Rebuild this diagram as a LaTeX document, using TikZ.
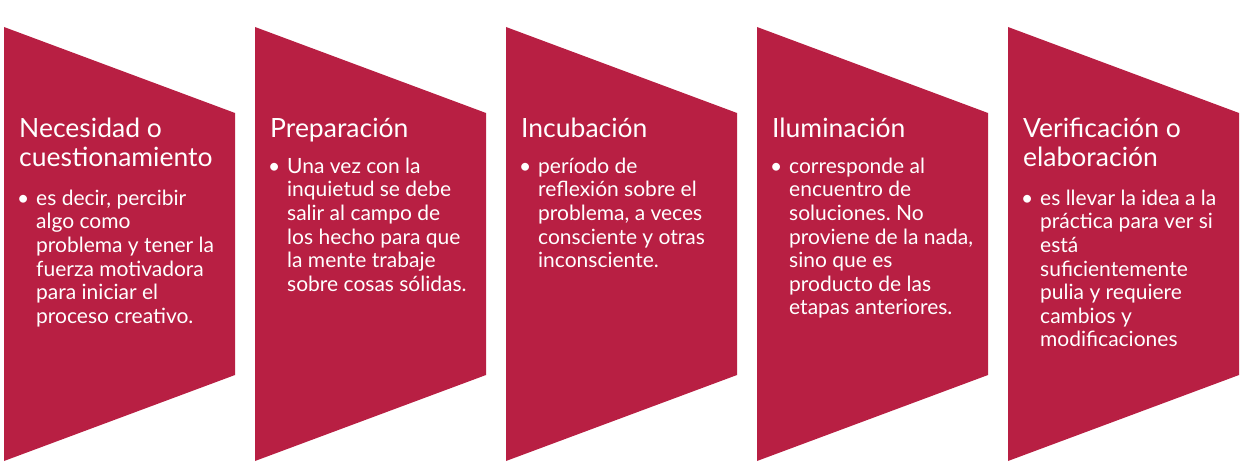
\documentclass[tikz,border=0pt]{standalone}
\usepackage{fontspec}
\setmainfont{Lato}
\usepackage{tikz}
\definecolor{Crimson}{RGB}{184,31,67}
\frenchspacing

% a strut that fixes the height of the first line of a node
\newcommand{\topstrut}[1]{\rule{0pt}{#1}}

\tikzset{
    stage/.style={fill=Crimson},
    stagetitle/.style={anchor=north west, inner sep=0pt, text=white, align=left,
        font=\fontsize{26.5}{29.5}\selectfont},
    stagebody/.style={anchor=north west, inner sep=0pt, text=white, align=left,
        font=\fontsize{21}{23.6}\selectfont},
    stagedot/.style={anchor=base west, inner sep=0pt, text=white,
        font=\fontsize{21}{23.6}\selectfont}
}

\begin{document}
\begin{tikzpicture}[x=1pt, y=-1pt]
    \useasboundingbox (0,0) rectangle (1242,476);

    % Stages
    \fill[stage] (4,27) -- (235,113) -- (235,375) -- (4,461) -- cycle;
    \fill[stage] (255,27) -- (486,113) -- (486,375) -- (255,461) -- cycle;
    \fill[stage] (506,27) -- (737,113) -- (737,375) -- (506,461) -- cycle;
    \fill[stage] (757,27) -- (988,113) -- (988,375) -- (757,461) -- cycle;
    \fill[stage] (1008,27) -- (1239,113) -- (1239,375) -- (1008,461) -- cycle;

    % Titles (first baseline at y = 137)
    \node[stagetitle] (necesidad) at (19,111) {\topstrut{26pt}Necesidad o\\cuestionamiento};
    \node[stagetitle] (preparacion) at (270,111) {\topstrut{26pt}Preparación};
    \node[stagetitle] (incubacion) at (521,111) {\topstrut{26pt}Incubación};
    \node[stagetitle] (iluminacion) at (772,111) {\topstrut{26pt}Iluminación};
    \node[stagetitle] (verificacion) at (1023,111) {\topstrut{26pt}Verificación o\\elaboración};

    % Bullets
    \node[stagedot] (dot1) at (17,205) {\textbullet};
    \node[stagedot] (dot2) at (268,173) {\textbullet};
    \node[stagedot] (dot3) at (519,173) {\textbullet};
    \node[stagedot] (dot4) at (770,173) {\textbullet};
    \node[stagedot] (dot5) at (1021,205) {\textbullet};

    % Descriptions (first baseline at y = 205 or 173)
    \node[stagebody] (texto1) at (36,185) {\topstrut{20pt}es decir, percibir\\algo como\\problema y tener la\\fuerza motivadora\\para iniciar el\\proceso creativo.};
    \node[stagebody] (texto2) at (287,153) {\topstrut{20pt}Una vez con la\\inquietud se debe\\salir al campo de\\los hecho para que\\la mente trabaje\\sobre cosas sólidas.};
    \node[stagebody] (texto3) at (538,153) {\topstrut{20pt}período de\\reflexión sobre el\\problema, a veces\\consciente y otras\\inconsciente.};
    \node[stagebody] (texto4) at (789,153) {\topstrut{20pt}corresponde al\\encuentro de\\soluciones. No\\proviene de la nada,\\sino que es\\producto de las\\etapas anteriores.};
    \node[stagebody] (texto5) at (1040,185) {\topstrut{20pt}es llevar la idea a la\\práctica para ver si\\está\\suficientemente\\pulia y requiere\\cambios y\\modificaciones};
\end{tikzpicture}
\end{document}
